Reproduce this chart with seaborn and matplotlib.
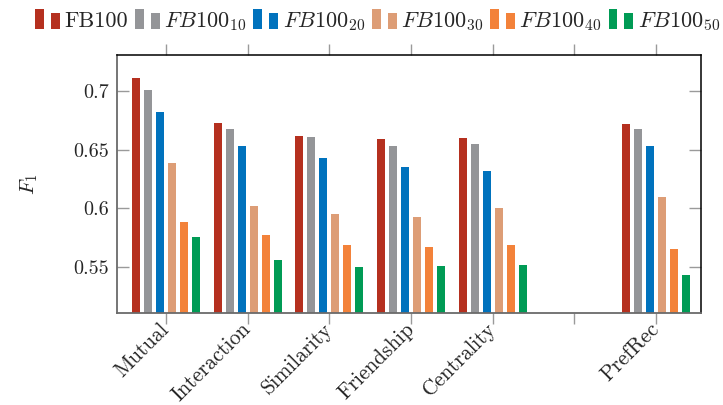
import numpy as np
import pandas as pd
import matplotlib
matplotlib.use("Agg")
import matplotlib.pyplot as plt
from matplotlib.patches import Rectangle
from matplotlib.legend_handler import HandlerBase
import seaborn as sns

# ---- data ----
categories = ["Mutual", "Interaction", "Similarity", "Friendship", "Centrality", "", "PrefRec"]
series = ["FB100", "FB100_10", "FB100_20", "FB100_30", "FB100_40", "FB100_50"]
series_labels = [r"FB100", r"$FB100_{10}$", r"$FB100_{20}$", r"$FB100_{30}$",
                 r"$FB100_{40}$", r"$FB100_{50}$"]
fb100    = [0.711, 0.673, 0.662, 0.659, 0.660, None, 0.672]
fb100_10 = [0.701, 0.668, 0.661, 0.653, 0.655, None, 0.668]
fb100_20 = [0.682, 0.653, 0.643, 0.635, 0.632, None, 0.653]
fb100_30 = [0.639, 0.602, 0.595, 0.593, 0.600, None, 0.610]
fb100_40 = [0.588, 0.577, 0.569, 0.567, 0.569, None, 0.565]
fb100_50 = [0.576, 0.556, 0.550, 0.551, 0.552, None, 0.543]
colors = ["#B5301F", "#949598", "#0072BD", "#DD9D76", "#F3823A", "#009B55"]
yticks = [0.55, 0.6, 0.65, 0.7]
ytick_labels = ["0.55", "0.6", "0.65", "0.7"]

rows = []
for s, vals in zip(series, [fb100, fb100_10, fb100_20, fb100_30, fb100_40, fb100_50]):
    for c, v in zip(categories, vals):
        if v is not None:
            rows.append({"cat": c, "series": s, "F1": v})
df = pd.DataFrame(rows)

sns.set_theme(style="white")
plt.rcParams["font.family"] = ["cmr10", "DejaVu Serif"]
plt.rcParams["mathtext.fontset"] = "cm"
plt.rcParams["axes.formatter.use_mathtext"] = True

fig = plt.figure(figsize=(7.23, 4.05), dpi=100)
ax = fig.add_axes([117 / 723, 1 - 313 / 405, (701 - 117) / 723, (313 - 55) / 405])

sns.barplot(data=df, x="cat", y="F1", hue="series", order=categories,
            hue_order=series, palette=colors, width=0.88, gap=0.33,
            errorbar=None, ax=ax, legend=False, linewidth=0, saturation=1)

ax.set_xlim(-0.6, 6.55)
ax.set_ylim(0.5108, 0.7307)
ax.set_yticks(yticks)
ax.set_yticklabels(ytick_labels, fontsize=14.5)
ax.set_xticks(range(len(categories)))
ax.set_xticklabels(categories, fontsize=15.3, rotation=45, ha="right",
                   va="center", rotation_mode="anchor")
ax.set_xlabel("")
ax.set_ylabel(r"$F_1$", fontsize=15, labelpad=24)

ax.tick_params(axis="y", which="both", direction="in", left=True, right=True,
               length=8.5, width=1, color="#9a9a9a", pad=6)
ax.tick_params(axis="x", which="both", direction="out", bottom=True, top=True,
               length=8, width=1, color="#9a9a9a", pad=1.5)

for side in ["left", "bottom"]:
    ax.spines[side].set_color("#6a6a6a")
    ax.spines[side].set_linewidth(1.3)
for side in ["top", "right"]:
    ax.spines[side].set_color("black")
    ax.spines[side].set_linewidth(1.1)
    ax.spines[side].set_visible(True)


class TwoBarHandler(HandlerBase):
    def create_artists(self, legend, orig_handle, xdescent, ydescent,
                       width, height, fontsize, trans):
        col = orig_handle.get_facecolor()
        bw = width * 0.36
        r1 = Rectangle((-xdescent, -ydescent - 0.1 * height), bw, height * 1.3,
                       facecolor=col, edgecolor="none", transform=trans)
        r2 = Rectangle((-xdescent + width - bw, -ydescent - 0.1 * height), bw,
                       height * 1.0, facecolor=col, edgecolor="none", transform=trans)
        return [r1, r2]


handles = [Rectangle((0, 0), 1, 1, facecolor=c) for c in colors]
leg = fig.legend(handles, series_labels, loc="upper left",
                 bbox_to_anchor=(31 / 723, 1 - 6 / 405), ncol=6, frameon=False,
                 fontsize=16, handler_map={Rectangle: TwoBarHandler()},
                 handlelength=1.12, handletextpad=0.2, columnspacing=0.3,
                 borderaxespad=0.0, borderpad=0.2)

fig.savefig("out.png", dpi=100)
